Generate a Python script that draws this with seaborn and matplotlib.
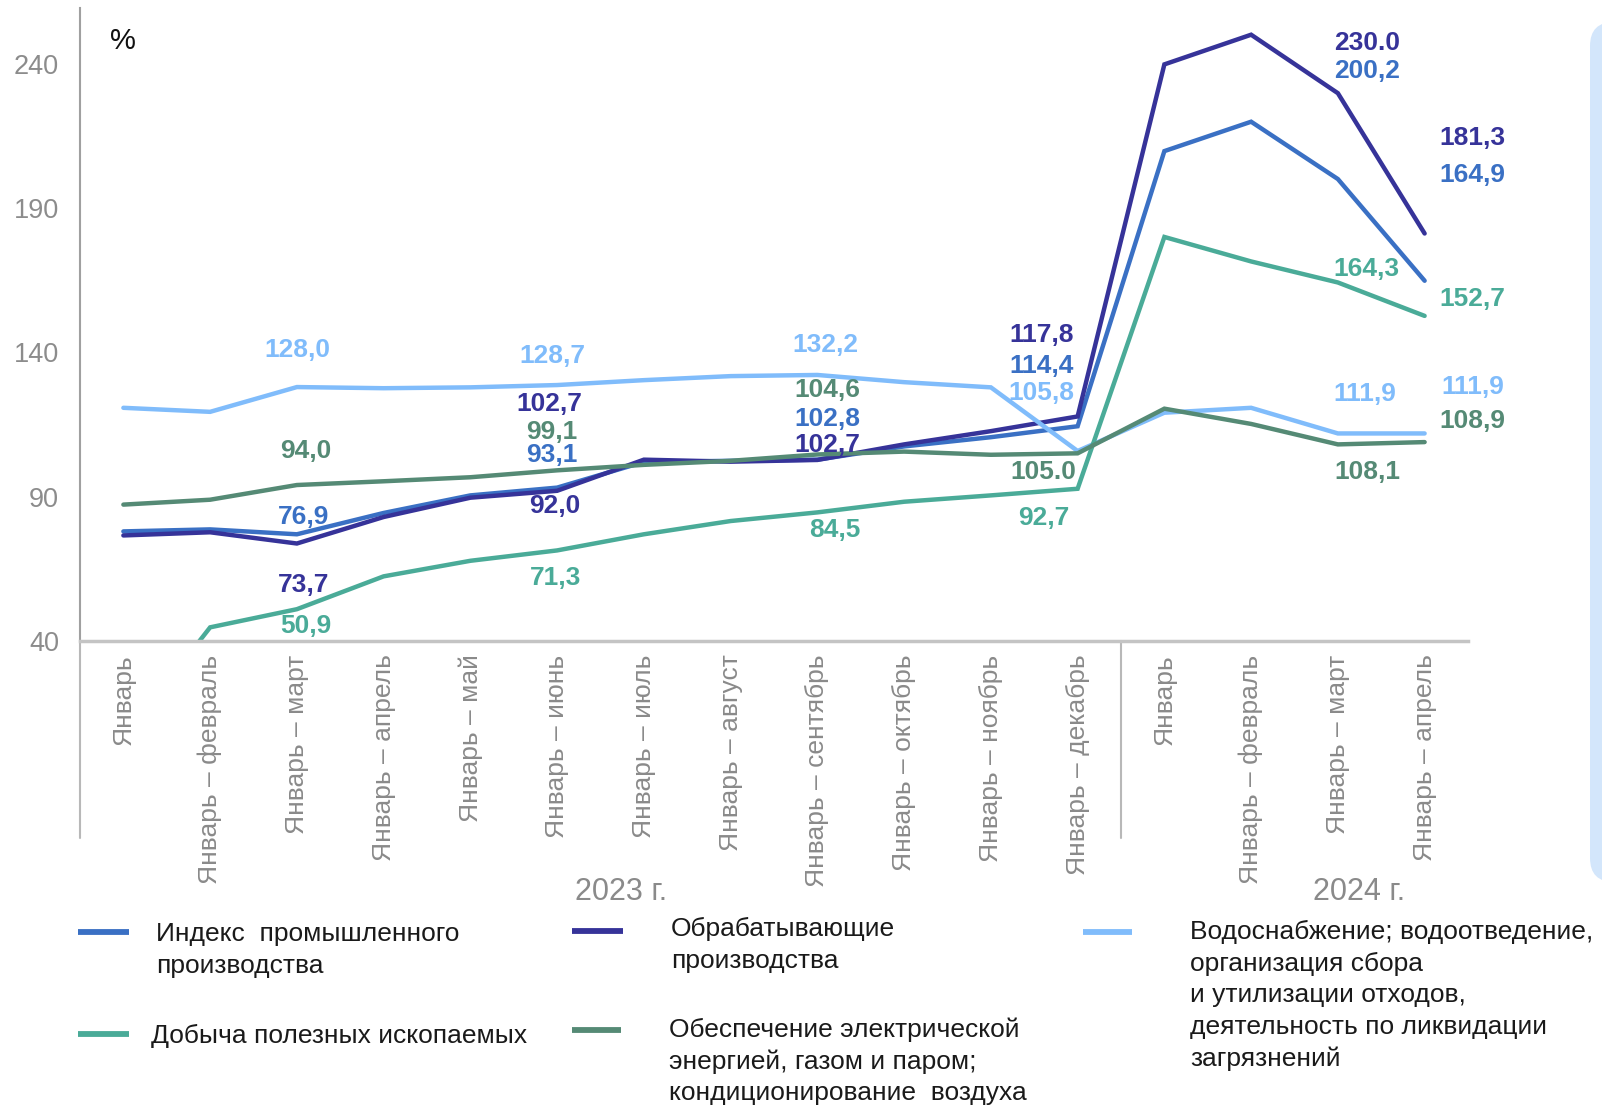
import numpy as np
import pandas as pd
import seaborn as sns
import matplotlib
matplotlib.use("Agg")
import matplotlib.pyplot as plt
from matplotlib.lines import Line2D
from matplotlib.patches import FancyBboxPatch
import matplotlib.transforms as mtransforms

# ---------------- data ----------------
categories = ["Январь", "Январь – февраль", "Январь – март", "Январь – апрель",
              "Январь – май", "Январь – июнь", "Январь – июль", "Январь – август",
              "Январь – сентябрь", "Январь – октябрь", "Январь – ноябрь",
              "Январь – декабрь", "Январь", "Январь – февраль", "Январь – март",
              "Январь – апрель"]
years = ["2023 г.", "2024 г."]

series_names = ["Индекс  промышленного\nпроизводства",
                "Обрабатывающие\nпроизводства",
                "Водоснабжение; водоотведение,\nорганизация сбора\nи утилизации отходов,\nдеятельность по ликвидации\nзагрязнений",
                "Добыча полезных ископаемых",
                "Обеспечение электрической\nэнергией, газом и паром;\nкондиционирование  воздуха"]

index_vals = [77.9, 78.6, 76.9, 84.3, 90.4, 93.1, 102.0, 102.4, 102.8, 107.4,
              110.6, 114.4, 209.9, 220.1, 200.2, 164.9]
manuf_vals = [76.5, 77.6, 73.7, 82.9, 89.6, 92.0, 102.8, 102.1, 102.7, 108.1,
              112.7, 117.8, 240.0, 250.3, 230.0, 181.3]
water_vals = [120.8, 119.4, 128.0, 127.6, 127.9, 128.7, 130.4, 131.8, 132.2, 129.7,
              127.9, 105.8, 119.1, 120.8, 111.9, 111.9]
mining_vals = [6.0, 44.6, 50.9, 62.3, 67.7, 71.3, 76.9, 81.5, 84.5, 88.2,
               90.4, 92.7, 180.1, 171.6, 164.3, 152.7]
elec_vals = [87.2, 88.9, 94.0, 95.3, 96.7, 99.1, 101.0, 102.4, 104.6, 105.6,
             104.5, 105.0, 120.5, 115.2, 108.1, 108.9]

colors = ["#3a70c4", "#363399", "#80bcfb", "#4aab98", "#558a75"]
yticks = [40, 90, 140, 190, 240]

# labels: (series idx, category idx, text, dx px, dy px)
labels = [
    (2, 2, "128,0", 0, 37), (4, 2, "94,0", 9, 34), (0, 2, "76,9", 7, 17),
    (1, 2, "73,7", 7, -41), (3, 2, "50,9", 9, -17),
    (2, 5, "128,7", -5, 29), (1, 5, "102,7", -8, 87), (4, 5, "99,1", -5, 38),
    (0, 5, "93,1", -5, 33), (1, 5, "92,0", -2, -15), (3, 5, "71,3", -2, -28),
    (2, 8, "132,2", 8, 30), (4, 8, "104,6", 10, 64), (0, 8, "102,8", 10, 41),
    (1, 8, "102,7", 10, 15), (3, 8, "84,5", 17, -18),
    (1, 11, "117,8", -36, 81), (0, 11, "114,4", -36, 60), (2, 11, "105,8", -36, 58),
    (4, 11, "105.0", -34, -19), (3, 11, "92,7", -34, -29),
    (1, 14, "230.0", 29, 50), (0, 14, "200,2", 29, 108), (3, 14, "164,3", 29, 13),
    (2, 14, "111,9", 27, 39), (4, 14, "108,1", 29, -28),
    (1, 15, "181,3", 48, 96), (0, 15, "164,9", 48, 106), (3, 15, "152,7", 48, 17),
    (2, 15, "111,9", 48, 46), (4, 15, "108,9", 48, 21),
]

all_vals = [index_vals, manuf_vals, water_vals, mining_vals, elec_vals]

# ---------------- figure ----------------
sns.set_style("white")
plt.rcParams["font.family"] = ["Liberation Sans", "DejaVu Sans"]

W, H = 1602, 1110
fig = plt.figure(figsize=(W / 100, H / 100), dpi=100)
ax = fig.add_axes([80 / W, 1 - 640.6 / H, (1468 - 80) / W, (640.6 - 8.2) / H])

rows = []
for name, vals in zip(series_names, all_vals):
    for i, v in enumerate(vals):
        rows.append({"x": i, "y": v, "series": name})
df = pd.DataFrame(rows)

sns.lineplot(data=df, x="x", y="y", hue="series", hue_order=series_names,
             palette=colors, linewidth=3.2, legend=False, ax=ax, sort=False)
for ln in ax.lines:
    ln.set_solid_joinstyle("miter")
    ln.set_solid_capstyle("round")

ax.set_xlim(-0.5, len(categories) - 0.5)
ax.set_ylim(40, 259.5)
ax.set_yticks(yticks)
ax.set_yticklabels([str(t) for t in yticks], color="#8c8c8c", fontsize=19.5)
ax.set_xticks(range(len(categories)))
ax.set_xticklabels(categories, rotation=90, color="#8a8a8a", fontsize=19,
                   va="top", ha="center")
ax.tick_params(axis="both", length=0)
ax.tick_params(axis="x", pad=10)
ax.tick_params(axis="y", pad=15)
ax.set_xlabel("")
ax.set_ylabel("")

for s in ["top", "right"]:
    ax.spines[s].set_visible(False)
ax.spines["left"].set_color("#a0a0a0")
ax.spines["left"].set_linewidth(1.5)
ax.spines["bottom"].set_color("#c4c4c4")
ax.spines["bottom"].set_linewidth(2.5)

# category area lines
trans = mtransforms.blended_transform_factory(ax.transData, ax.transAxes)
ax.add_line(Line2D([-0.5, -0.5], [0, -0.312], transform=trans, color="#b8b8b8",
                   lw=1.5, clip_on=False))
ax.add_line(Line2D([11.5, 11.5], [0, -0.312], transform=trans, color="#b8b8b8",
                   lw=1.5, clip_on=False))

ax.text(5.74, -0.398, years[0], transform=trans, ha="center", va="center",
        color="#8a8a8a", fontsize=22)
ax.text(14.24, -0.398, years[1], transform=trans, ha="center", va="center",
        color="#8a8a8a", fontsize=22)

# data labels
for si, ci, txt, dx, dy in labels:
    ax.annotate(txt, xy=(ci, all_vals[si][ci]), xytext=(dx, dy),
                textcoords="offset pixels", ha="center", va="center",
                fontsize=19, fontweight="bold", color=colors[si],
                annotation_clip=False)

# % sign
fig.text(123 / W, 1 - 41 / H, "%", ha="center", va="center", fontsize=21,
         color="#111111")

# legend (manual layout)
leg_pos = [  # handle x0, x1, y ; text x, first line y
    (78, 129, 932, 156, 935),
    (572, 623, 931, 671, 930),
    (1083, 1132, 932, 1190, 933),
    (78, 129, 1034, 151, 1037),
    (572, 621, 1030, 669, 1030),
]
for (x0, x1, yh, xt, yt), name, c in zip(leg_pos, series_names, colors):
    fig.add_artist(Line2D([x0 / W, x1 / W], [1 - yh / H, 1 - yh / H],
                          transform=fig.transFigure, color=c, lw=4.2,
                          solid_capstyle="butt"))
    fig.text(xt / W, 1 - (yt - 13) / H, name, ha="left", va="top",
             fontsize=19, color="#1a1a1a", linespacing=1.4)

# right-side panel
panel = FancyBboxPatch((1590 / W, 1 - 882 / H), 60 / W, (882 - 22) / H,
                       boxstyle="round,pad=0,rounding_size=0.015",
                       transform=fig.transFigure, facecolor="#d3e6fb",
                       edgecolor="none", mutation_aspect=W / H)
fig.add_artist(panel)

fig.savefig("out.png", dpi=100, facecolor="white")
